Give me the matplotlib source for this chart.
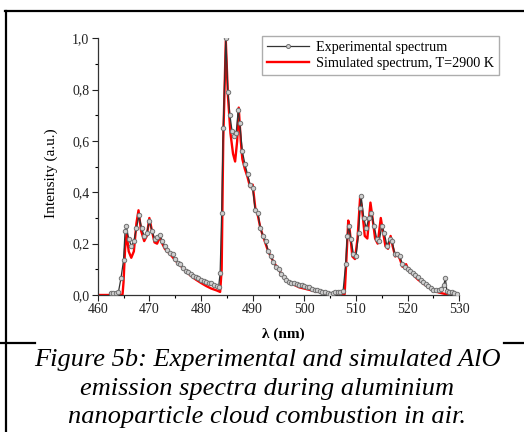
import matplotlib
matplotlib.use("Agg")
import matplotlib.pyplot as plt
from matplotlib.lines import Line2D
from matplotlib.ticker import MultipleLocator, FuncFormatter

plt.rcParams['font.family'] = ['Liberation Serif', 'DejaVu Serif']

# Experimental spectrum (nm, a.u.)
exp_wl = [462.5, 463.0, 463.5, 464.0, 464.5, 465.0, 465.3, 465.5, 466.0, 466.5, 467.0, 467.5,
          468.0, 468.5, 469.0, 469.5, 470.0, 470.5, 471.0, 471.5, 472.0, 472.5, 473.0, 473.5,
          474.0, 474.5, 475.0, 475.5, 476.0, 476.5, 477.0, 477.5, 478.0, 478.5, 479.0, 479.5,
          480.0, 480.5, 481.0, 481.5, 482.0, 482.5, 483.0, 483.4, 483.7, 484.0, 484.3, 484.8,
          485.2, 485.6, 486.0, 486.4, 486.8, 487.2, 487.5, 488.0, 488.5, 489.0, 489.5, 490.0,
          490.5, 491.0, 491.5, 492.0, 492.5, 493.0, 493.5, 494.0, 494.5, 495.0, 495.5, 496.0,
          496.5, 497.0, 497.5, 498.0, 498.5, 499.0, 499.5, 500.0, 500.5, 501.0, 501.5, 502.0,
          502.5, 503.0, 503.5, 504.0, 504.5, 505.0, 505.5, 506.0, 506.5, 507.0, 507.5, 508.0,
          508.3, 508.6, 509.0, 509.5, 510.0, 510.5, 510.8, 511.0, 511.5, 512.0, 512.5, 513.0,
          513.5, 514.0, 514.5, 515.0, 515.5, 516.0, 516.5, 517.0, 517.5, 518.0, 518.5, 519.0,
          519.5, 520.0, 520.5, 521.0, 521.5, 522.0, 522.5, 523.0, 523.5, 524.0, 524.5, 525.0,
          525.5, 526.0, 526.5, 527.0, 527.3, 527.6, 528.0, 528.5, 529.0, 529.5]
exp_int = [0.007, 0.008, 0.006, 0.010, 0.065, 0.135, 0.250, 0.270, 0.220, 0.190, 0.210, 0.260,
           0.310, 0.260, 0.230, 0.240, 0.290, 0.250, 0.220, 0.225, 0.235, 0.210, 0.190, 0.175,
           0.165, 0.160, 0.140, 0.125, 0.120, 0.105, 0.095, 0.088, 0.080, 0.075, 0.070, 0.066,
           0.060, 0.055, 0.050, 0.048, 0.045, 0.040, 0.035, 0.030, 0.085, 0.320, 0.650, 1.000,
           0.790, 0.700, 0.640, 0.620, 0.630, 0.720, 0.670, 0.560, 0.510, 0.470, 0.430, 0.415,
           0.330, 0.320, 0.260, 0.230, 0.210, 0.170, 0.150, 0.130, 0.110, 0.100, 0.080, 0.070,
           0.060, 0.050, 0.048, 0.045, 0.042, 0.040, 0.038, 0.035, 0.032, 0.030, 0.025, 0.020,
           0.018, 0.015, 0.012, 0.010, 0.008, 0.005, 0.008, 0.010, 0.012, 0.010, 0.015, 0.120,
           0.230, 0.270, 0.220, 0.160, 0.150, 0.240, 0.340, 0.385, 0.300, 0.260, 0.300, 0.320,
           0.270, 0.220, 0.210, 0.270, 0.240, 0.190, 0.220, 0.210, 0.160, 0.160, 0.150, 0.120,
           0.110, 0.100, 0.092, 0.085, 0.078, 0.070, 0.060, 0.050, 0.042, 0.035, 0.028, 0.020,
           0.018, 0.020, 0.025, 0.040, 0.065, 0.015, 0.010, 0.010, 0.008, 0.005]

# Simulated spectrum, T = 2900 K
sim_wl = [460.0, 462.0, 464.0, 464.8, 465.0, 465.3, 465.6, 466.0, 466.5, 467.0, 467.5, 467.9,
          468.4, 469.0, 469.5, 470.0, 470.5, 471.0, 471.5, 472.0, 472.5, 473.0, 474.0, 475.0,
          476.0, 477.0, 478.0, 479.0, 480.0, 481.0, 482.0, 483.0, 483.7, 484.0, 484.3, 484.8,
          485.2, 485.7, 486.2, 486.6, 487.0, 487.3, 487.7, 488.0, 488.5, 489.0, 489.5, 490.0,
          490.5, 491.0, 491.5, 492.0, 492.5, 493.0, 494.0, 495.0, 496.0, 497.0, 498.0, 499.0,
          500.0, 502.0, 504.0, 506.0, 507.8, 508.1, 508.5, 508.8, 509.3, 509.8, 510.3, 510.8,
          511.2, 511.7, 512.2, 512.8, 513.2, 513.7, 514.2, 514.8, 515.2, 515.7, 516.2, 516.7,
          517.1, 517.6, 518.0, 518.5, 519.0, 519.7, 520.2, 521.0, 522.0, 523.0, 524.0, 525.0,
          526.0, 527.0, 528.0, 530.0]
sim_int = [0.0, 0.0, 0.0, 0.0, 0.050, 0.180, 0.240, 0.170, 0.145, 0.170, 0.280, 0.330,
           0.250, 0.210, 0.230, 0.300, 0.250, 0.205, 0.200, 0.225, 0.200, 0.180, 0.160, 0.135,
           0.115, 0.095, 0.075, 0.060, 0.047, 0.035, 0.025, 0.018, 0.012, 0.100, 0.600, 0.990,
           0.780, 0.630, 0.550, 0.520, 0.600, 0.730, 0.600, 0.530, 0.490, 0.460, 0.420, 0.430,
           0.340, 0.310, 0.260, 0.230, 0.200, 0.170, 0.130, 0.100, 0.070, 0.050, 0.040, 0.030,
           0.025, 0.015, 0.008, 0.005, 0.003, 0.120, 0.290, 0.250, 0.150, 0.140, 0.220, 0.380,
           0.330, 0.230, 0.220, 0.360, 0.300, 0.220, 0.200, 0.300, 0.250, 0.190, 0.180, 0.230,
           0.190, 0.150, 0.160, 0.140, 0.110, 0.120, 0.095, 0.080, 0.060, 0.045, 0.030, 0.018,
           0.010, 0.005, 0.002, 0.0]

x_ticks = [460, 470, 480, 490, 500, 510, 520, 530]
y_ticks = [0.0, 0.2, 0.4, 0.6, 0.8, 1.0]

caption = ["Figure 5b: Experimental and simulated AlO",
           "emission spectra during aluminium",
           "nanoparticle cloud combustion in air."]

W, H = 524, 432
fig = plt.figure(figsize=(W / 100, H / 100), dpi=100)
fig.patch.set_facecolor('white')

# table-cell borders
def hline(y, x0, x1):
    fig.add_artist(Line2D([x0 / W, x1 / W], [1 - y / H, 1 - y / H], color='black', lw=1.6,
                          transform=fig.transFigure))

def vline(x, y0, y1):
    fig.add_artist(Line2D([x / W, x / W], [1 - y0 / H, 1 - y1 / H], color='black', lw=1.6,
                          transform=fig.transFigure))

hline(11, 5, W)
vline(6, 11, H)
hline(343, 0, 35)
hline(343, 504, W)

ax = fig.add_axes([97.7 / W, 1 - 295 / H, (459.3 - 97.7) / W, (295 - 38.3) / H])

ax.plot(sim_wl, sim_int, color='#ff0000', lw=1.7, zorder=2,
        label='Simulated spectrum, T=2900 K')
ax.plot(exp_wl, exp_int, color='#333333', lw=0.9, marker='o', ms=3.2,
        mfc='#d0d0d0', mec='#707070', mew=0.7, zorder=3,
        label='Experimental spectrum')

ax.set_xlim(460, 530)
ax.set_ylim(0, 1.0)
ax.set_xticks(x_ticks)
ax.set_yticks(y_ticks)
ax.xaxis.set_minor_locator(MultipleLocator(5))
ax.yaxis.set_minor_locator(MultipleLocator(0.1))
ax.xaxis.set_major_formatter(FuncFormatter(lambda v, p: f"{v:.0f}"))
ax.yaxis.set_major_formatter(FuncFormatter(lambda v, p: f"{v:.1f}".replace('.', ',')))
ax.tick_params(which='major', direction='out', length=4, width=0.8, labelsize=10, pad=2,
               colors='#222222')
ax.tick_params(which='minor', direction='out', length=2.5, width=0.8)
for s in ['top', 'right']:
    ax.spines[s].set_visible(False)
for s in ['left', 'bottom']:
    ax.spines[s].set_linewidth(0.9)
    ax.spines[s].set_color('#333333')

ax.set_ylabel('Intensity (a.u.)', fontsize=11)
ax.yaxis.set_label_coords(-0.11, 0.475)
ax.set_xlabel('λ (nm)', fontsize=11, fontweight='bold')
ax.xaxis.set_label_coords(0.512, -0.128)

handles, labels = ax.get_legend_handles_labels()
leg = ax.legend(handles[::-1], labels[::-1], loc='upper left', bbox_to_anchor=(0.454, 1.009),
                borderaxespad=0, fontsize=10.2, frameon=True, fancybox=False,
                handlelength=3.0, handletextpad=0.5, borderpad=0.35, labelspacing=0.2,
                markerscale=0.9)
leg.get_frame().set_edgecolor('#999999')
leg.get_frame().set_linewidth(1.0)
for h in leg.legend_handles:
    try:
        h.set_markevery([1])
    except Exception:
        pass

for i, line in enumerate(caption):
    fig.text(267 / W, 1 - (360 + 28.5 * i) / H, line, ha='center', va='center',
             fontsize=19, fontstyle='italic')

fig.savefig('out.png', dpi=100)
